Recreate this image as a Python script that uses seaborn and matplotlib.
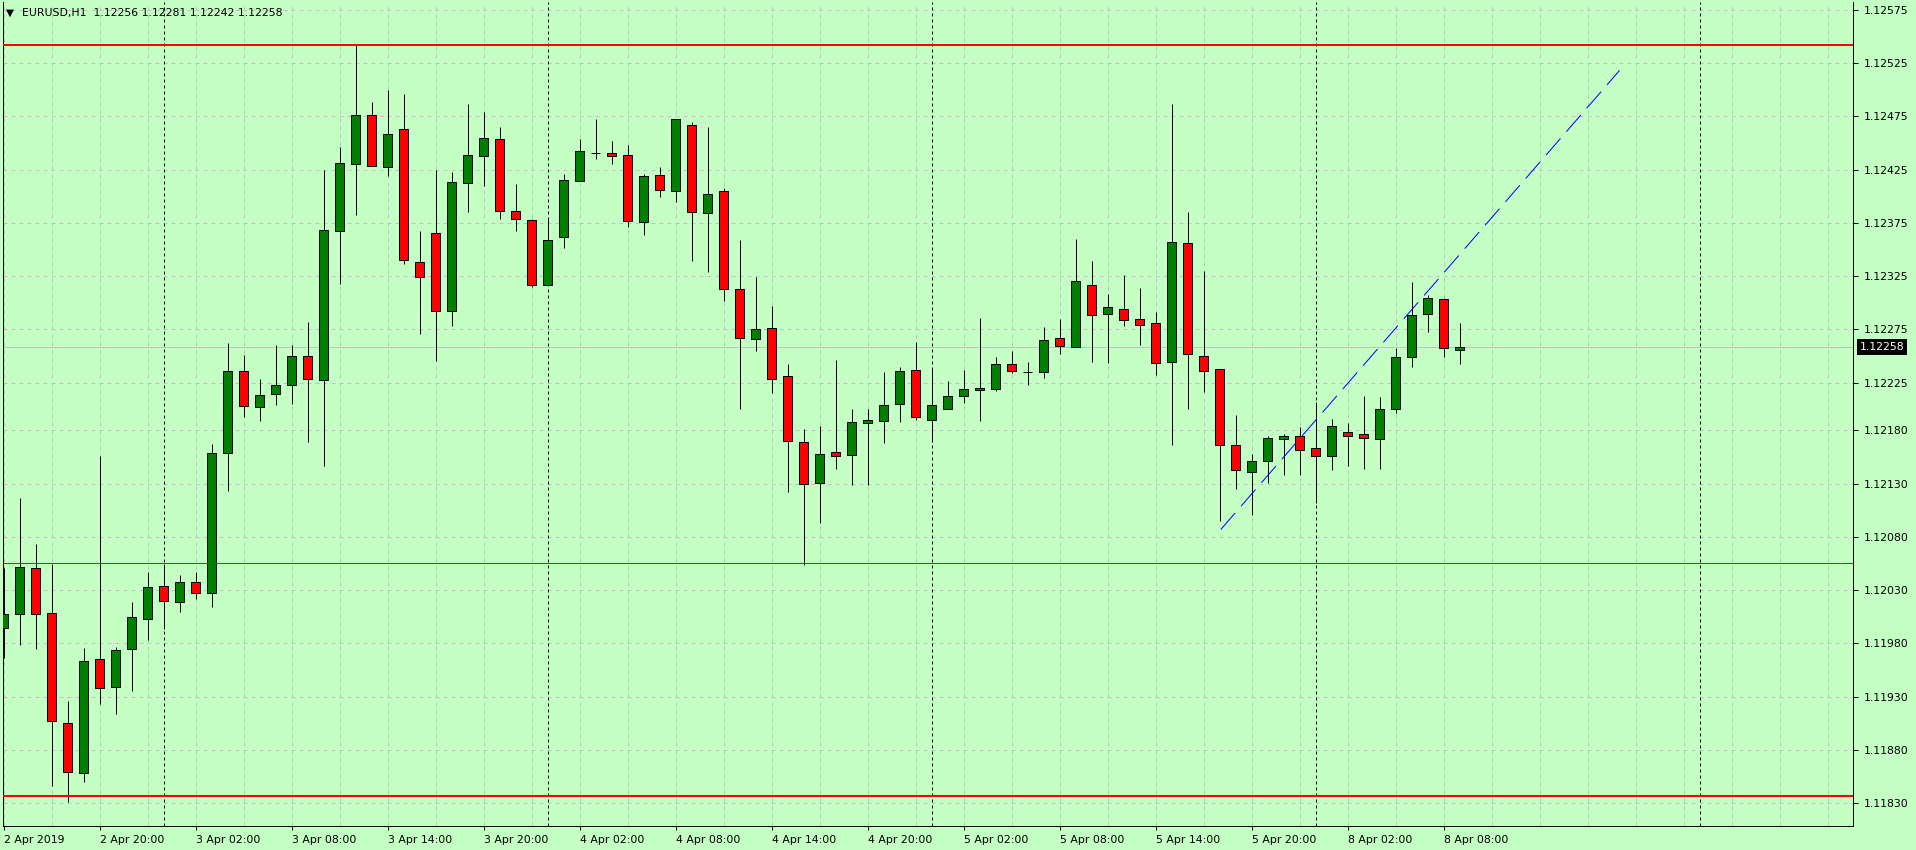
import numpy as np
import pandas as pd
import matplotlib
matplotlib.use('Agg')
import matplotlib.pyplot as plt
import matplotlib.transforms as mtransforms
import seaborn as sns

# EURUSD H1, bar 0 = 2 Apr 2019 14:00 (weekend gap after 5 Apr 23:00)
opens = [1.11995, 1.12008, 1.12051, 1.12009, 1.11905, 1.11858, 1.11965, 1.11939, 1.11975, 1.12003,
         1.12034, 1.12019, 1.12038, 1.12027, 1.12159, 1.12236, 1.12202, 1.12214, 1.12223, 1.12250,
         1.12227, 1.12367, 1.12430, 1.12476, 1.12427, 1.12463, 1.12338, 1.12365, 1.12292, 1.12412,
         1.12438, 1.12454, 1.12386, 1.12378, 1.12317, 1.12362, 1.12414, 1.12441, 1.12441, 1.12439,
         1.12376, 1.12420, 1.12405, 1.12467, 1.12384, 1.12405, 1.12313, 1.12266, 1.12276, 1.12231,
         1.12169, 1.12131, 1.12160, 1.12157, 1.12187, 1.12189, 1.12205, 1.12237, 1.12190, 1.12200,
         1.12212, 1.12220, 1.12219, 1.12242, 1.12235, 1.12235, 1.12267, 1.12258, 1.12317, 1.12289,
         1.12294, 1.12285, 1.12281, 1.12244, 1.12356, 1.12250, 1.12238, 1.12166, 1.12141, 1.12151,
         1.12172, 1.12175, 1.12164, 1.12156, 1.12179, 1.12177, 1.12172, 1.12200, 1.12249, 1.12289,
         1.12303, 1.12256]
highs = [1.12051, 1.12117, 1.12073, 1.12055, 1.11926, 1.11976, 1.12156, 1.11977, 1.12019, 1.12047,
         1.12055, 1.12044, 1.12047, 1.12167, 1.12262, 1.12251, 1.12228, 1.12260, 1.12260, 1.12282,
         1.12425, 1.12446, 1.12542, 1.12488, 1.12500, 1.12496, 1.12367, 1.12425, 1.12423, 1.12487,
         1.12479, 1.12465, 1.12411, 1.12379, 1.12379, 1.12421, 1.12454, 1.12472, 1.12452, 1.12448,
         1.12421, 1.12427, 1.12472, 1.12470, 1.12465, 1.12408, 1.12359, 1.12324, 1.12297, 1.12242,
         1.12181, 1.12184, 1.12246, 1.12200, 1.12200, 1.12235, 1.12240, 1.12263, 1.12238, 1.12226,
         1.12237, 1.12286, 1.12249, 1.12255, 1.12244, 1.12277, 1.12285, 1.12360, 1.12339, 1.12308,
         1.12326, 1.12314, 1.12291, 1.12487, 1.12385, 1.12330, 1.12238, 1.12195, 1.12158, 1.12175,
         1.12177, 1.12183, 1.12207, 1.12191, 1.12187, 1.12212, 1.12211, 1.12257, 1.12319, 1.12307,
         1.12304, 1.12281]
lows = [1.11966, 1.11979, 1.11975, 1.11846, 1.11831, 1.11850, 1.11923, 1.11914, 1.11935, 1.11983,
        1.11994, 1.12010, 1.12022, 1.12014, 1.12123, 1.12193, 1.12189, 1.12204, 1.12205, 1.12169,
        1.12147, 1.12318, 1.12382, 1.12428, 1.12419, 1.12336, 1.12271, 1.12245, 1.12278, 1.12385,
        1.12410, 1.12379, 1.12367, 1.12315, 1.12317, 1.12351, 1.12414, 1.12435, 1.12430, 1.12371,
        1.12364, 1.12399, 1.12395, 1.12339, 1.12329, 1.12302, 1.12200, 1.12255, 1.12215, 1.12122,
        1.12054, 1.12093, 1.12144, 1.12129, 1.12129, 1.12168, 1.12188, 1.12190, 1.12169, 1.12200,
        1.12206, 1.12189, 1.12217, 1.12234, 1.12223, 1.12229, 1.12252, 1.12258, 1.12244, 1.12243,
        1.12278, 1.12260, 1.12232, 1.12166, 1.12200, 1.12216, 1.12095, 1.12125, 1.12101, 1.12131,
        1.12138, 1.12138, 1.12112, 1.12143, 1.12147, 1.12144, 1.12144, 1.12196, 1.12240, 1.12272,
        1.12249, 1.12242]
closes = [1.12008, 1.12052, 1.12008, 1.11907, 1.11859, 1.11964, 1.11938, 1.11974, 1.12005, 1.12033,
          1.12020, 1.12038, 1.12027, 1.12159, 1.12236, 1.12203, 1.12213, 1.12223, 1.12250, 1.12228,
          1.12368, 1.12431, 1.12476, 1.12428, 1.12458, 1.12340, 1.12324, 1.12292, 1.12413, 1.12439,
          1.12455, 1.12386, 1.12379, 1.12317, 1.12359, 1.12415, 1.12442, 1.12441, 1.12438, 1.12377,
          1.12419, 1.12406, 1.12472, 1.12385, 1.12402, 1.12313, 1.12267, 1.12275, 1.12228, 1.12170,
          1.12130, 1.12158, 1.12156, 1.12188, 1.12190, 1.12204, 1.12236, 1.12193, 1.12204, 1.12212,
          1.12219, 1.12218, 1.12242, 1.12236, 1.12235, 1.12265, 1.12259, 1.12320, 1.12288, 1.12296,
          1.12284, 1.12279, 1.12243, 1.12357, 1.12252, 1.12236, 1.12166, 1.12143, 1.12151, 1.12173,
          1.12175, 1.12162, 1.12156, 1.12184, 1.12175, 1.12173, 1.12200, 1.12249, 1.12288, 1.12304,
          1.12257, 1.12258]

time_labels = ['2 Apr 2019', '2 Apr 20:00', '3 Apr 02:00', '3 Apr 08:00', '3 Apr 14:00',
               '3 Apr 20:00', '4 Apr 02:00', '4 Apr 08:00', '4 Apr 14:00', '4 Apr 20:00',
               '5 Apr 02:00', '5 Apr 08:00', '5 Apr 14:00', '5 Apr 20:00', '8 Apr 02:00',
               '8 Apr 08:00']
label_bars = [0, 6, 12, 18, 24, 30, 36, 42, 48, 54, 60, 66, 72, 78, 84, 90]
day_start_bars = [10, 34, 58, 82, 106]

price_ticks = [1.12575, 1.12525, 1.12475, 1.12425, 1.12375, 1.12325, 1.12275, 1.12225,
               1.12180, 1.12130, 1.12080, 1.12030, 1.11980, 1.11930, 1.11880, 1.11830]

level_lines = [1.12542, 1.12056, 1.11837]
level_widths = [2, 1, 2]
trend_x = [76.08, 101.0]
trend_y = [1.12087, 1.12518]

symbol = 'EURUSD,H1'
last_bar = (1.12256, 1.12281, 1.12242, 1.12258)
bid = 1.12258

BG = '#c4ffc4'
GRID = '#c8bcc8'
BULL = '#008000'
BEAR = '#ff0000'
PX = 0.72  # one pixel in points at dpi 100
FS = 7.8

sns.set_theme(style='white', rc={'axes.facecolor': BG, 'figure.facecolor': BG})
plt.rcParams['font.family'] = ['DejaVu Sans']

df = pd.DataFrame({'open': opens, 'high': highs, 'low': lows, 'close': closes})
df['x'] = np.arange(len(df))
df['bull'] = df['close'] >= df['open']
df['bottom'] = df[['open', 'close']].min(axis=1)
df['height'] = (df['close'] - df['open']).abs()

W, H = 1916, 850
fig = plt.figure(figsize=(W / 100, H / 100), dpi=100)
left_px, right_px, top_px, bot_px = 2.7, 1852.7, 2, 826
ax = fig.add_axes([left_px / W, 1 - bot_px / H, (right_px - left_px) / W, (bot_px - top_px) / H])
ax.set_facecolor(BG)

bar_px = 16.0
x0 = (left_px - 3.5) / bar_px
x1 = (right_px - 3.5) / bar_px
ax.set_xlim(x0, x1)
y_top = 1.12575 + (9.8 - top_px) / 106500
y_bot = 1.12575 - (bot_px - 9.8) / 106500
ax.set_ylim(y_bot, y_top)

# grid
ax.set_axisbelow(True)
ax.set_xticks(label_bars)
ax.set_xticks(np.arange(0, 116, 3), minor=True)
ax.grid(True, which='both', axis='x', color=GRID, lw=PX, linestyle=(0, (4, 4)))
ax.set_yticks(price_ticks)
ax.grid(True, which='major', axis='y', color=GRID, lw=PX, linestyle=(0, (4, 4)))

# bid line and day separators
ax.axhline(bid, color='#c0c0c0', lw=PX, zorder=1.5)
for b in day_start_bars:
    ax.axvline(b, color='black', lw=PX, linestyle=(0, (3, 3)), zorder=1.6)

# candles
ax.vlines(df['x'], df['low'], df['high'], color='black', lw=PX, zorder=3)
ax.bar(df['x'], df['height'], bottom=df['bottom'], width=9 / bar_px,
       color=np.where(df['bull'], BULL, BEAR), edgecolor='black', linewidth=PX, zorder=4)

# horizontal levels and trendline
for lvl, lw in zip(level_lines, level_widths):
    ax.axhline(lvl, color='red', lw=lw * PX, zorder=5)
sns.lineplot(x=trend_x, y=trend_y, ax=ax, color='blue', lw=PX,
             linestyle=(0, (22, 9)), zorder=5)

# axes styling
ax.spines['top'].set_visible(False)
for s in ['left', 'right', 'bottom']:
    ax.spines[s].set_color('black')
    ax.spines[s].set_linewidth(PX)
ax.yaxis.tick_right()
ax.set_yticklabels([f'{v:.5f}' for v in price_ticks])
ax.set_xticklabels(time_labels)
for lab in ax.get_xticklabels():
    lab.set_horizontalalignment('left')
ax.tick_params(axis='y', which='major', direction='out', length=3.3, width=PX,
               pad=4.5, labelsize=FS, colors='black', right=True, left=False)
ax.tick_params(axis='x', which='major', direction='out', length=3, width=PX,
               pad=3.5, labelsize=FS, colors='black', bottom=True)
ax.tick_params(axis='x', which='minor', length=0)

# current price label
trans = mtransforms.blended_transform_factory(ax.transAxes, ax.transData)
ax.text(1.0, bid, f'{bid:.5f}', transform=trans + mtransforms.ScaledTranslation(7 / 100, 0, fig.dpi_scale_trans),
        ha='left', va='center', color='white', fontsize=FS,
        bbox=dict(boxstyle='square,pad=0.28', fc='black', ec='black', lw=0),
        zorder=10, clip_on=False)

# header
fig.text(6.0 / W, 1 - 12.5 / H, '\u25bc', fontsize=7.5, ha='left', va='center', color='black')
fig.text(21.5 / W, 1 - 12.7 / H,
         f'{symbol}  ' + ' '.join(f'{v:.5f}' for v in last_bar),
         fontsize=FS, ha='left', va='center', color='black')

fig.savefig('out.png', dpi=100, facecolor=BG)
